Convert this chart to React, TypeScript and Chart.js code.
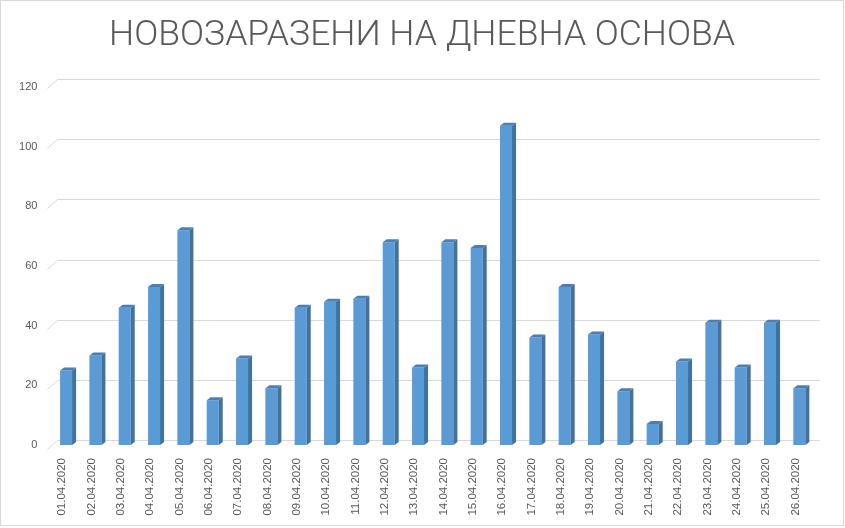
import React, { useEffect, useRef } from "react";
import { Chart, registerables } from "chart.js";

Chart.register(...registerables);

const categories = [
  "01.04.2020", "02.04.2020", "03.04.2020", "04.04.2020", "05.04.2020", "06.04.2020",
  "07.04.2020", "08.04.2020", "09.04.2020", "10.04.2020", "11.04.2020", "12.04.2020",
  "13.04.2020", "14.04.2020", "15.04.2020", "16.04.2020", "17.04.2020", "18.04.2020",
  "19.04.2020", "20.04.2020", "21.04.2020", "22.04.2020", "23.04.2020", "24.04.2020",
  "25.04.2020", "26.04.2020",
];
const newCases = [25, 30, 46, 53, 72, 15, 29, 19, 46, 48, 49, 68, 26, 68, 66, 107, 36, 53, 37, 18, 7, 28, 41, 26, 41, 19];
const yTicks = [0, 20, 40, 60, 80, 100, 120];
const titleText = "НОВОЗАРАЗЕНИ НА ДНЕВНА ОСНОВА";

const TEXT = "#595959";
const GRID = "#d9d9d9";

const depthPlugin = {
  id: "depth3d",
  beforeDatasetsDraw(chart: any) {
    const { ctx, chartArea } = chart;
    const ys = chart.scales.y;
    ctx.save();
    ctx.strokeStyle = GRID;
    ctx.lineWidth = 1;
    yTicks.forEach((v) => {
      const py = ys.getPixelForValue(v);
      const back = Math.round(py - 5 - v * 0.025) + 0.5;
      const front = Math.round(py + 4 - v * 0.025) + 0.5;
      ctx.beginPath();
      ctx.moveTo(chartArea.left - 4, front);
      ctx.lineTo(chartArea.left + 6, back);
      ctx.lineTo(chartArea.right + 6, back);
      ctx.stroke();
    });
    ctx.restore();
  },
  afterDatasetsDraw(chart: any) {
    const { ctx } = chart;
    const meta = chart.getDatasetMeta(0);
    ctx.save();
    meta.data.forEach((bar: any) => {
      const p = bar.getProps(["x", "y", "base", "width"], true);
      const left = p.x - p.width / 2;
      const right = p.x + p.width / 2;
      const dx = 4;
      const dy = 3;
      ctx.fillStyle = "#41719c";
      ctx.beginPath();
      ctx.moveTo(right, p.y);
      ctx.lineTo(right + dx, p.y - dy);
      ctx.lineTo(right + dx, p.base - dy);
      ctx.lineTo(right, p.base);
      ctx.closePath();
      ctx.fill();
      ctx.fillStyle = "#4a7fb5";
      ctx.beginPath();
      ctx.moveTo(left, p.y);
      ctx.lineTo(left + dx, p.y - dy);
      ctx.lineTo(right + dx, p.y - dy);
      ctx.lineTo(right, p.y);
      ctx.closePath();
      ctx.fill();
    });
    ctx.restore();
  },
  afterDraw(chart: any) {
    const { ctx } = chart;
    ctx.save();
    ctx.strokeStyle = GRID;
    ctx.lineWidth = 1;
    ctx.strokeRect(0.5, 0.5, 843, 525);
    ctx.fillStyle = TEXT;
    ctx.font = "300 35.5px Roboto";
    ctx.textAlign = "center";
    ctx.textBaseline = "middle";
    ctx.fillText(titleText, 422, 36);
    ctx.restore();
  },
};

export default function App() {
  const ref = useRef<HTMLCanvasElement>(null);
  useEffect(() => {
    if (!ref.current) return;
    const chart = new Chart(ref.current, {
      type: "bar",
      data: {
        labels: categories,
        datasets: [
          {
            data: newCases,
            backgroundColor: "#5b9bd5",
            borderWidth: 0,
            barPercentage: 0.41,
            categoryPercentage: 1,
          },
        ],
      },
      options: {
        responsive: false,
        animation: false,
        devicePixelRatio: 1,
        layout: { padding: { left: 0, right: 31, top: 87, bottom: 0 } },
        plugins: {
          legend: { display: false },
          tooltip: { enabled: false },
          title: { display: false },
        },
        scales: {
          x: {
            grid: { display: false, drawTicks: false },
            border: { display: false },
            ticks: {
              color: TEXT,
              font: { family: "Liberation Sans", size: 11.5 },
              minRotation: 90,
              maxRotation: 90,
              autoSkip: false,
              padding: 13,
              labelOffset: -4,
            },
            afterFit: (s: any) => {
              s.height = 83;
            },
          },
          y: {
            min: 0,
            max: 120,
            grid: { display: false, drawTicks: false },
            border: { display: false },
            ticks: {
              stepSize: 20,
              color: TEXT,
              font: { family: "Liberation Sans", size: 11 },
              padding: 14,
            },
            afterFit: (s: any) => {
              s.width = 51.4;
            },
          },
        },
      },
      plugins: [depthPlugin],
    });
    return () => chart.destroy();
  }, []);
  return (
    <div style={{ position: "fixed", left: 0, top: 0, width: 845, height: 528, background: "#fff" }}>
      <canvas ref={ref} width={845} height={528} />
    </div>
  );
}
